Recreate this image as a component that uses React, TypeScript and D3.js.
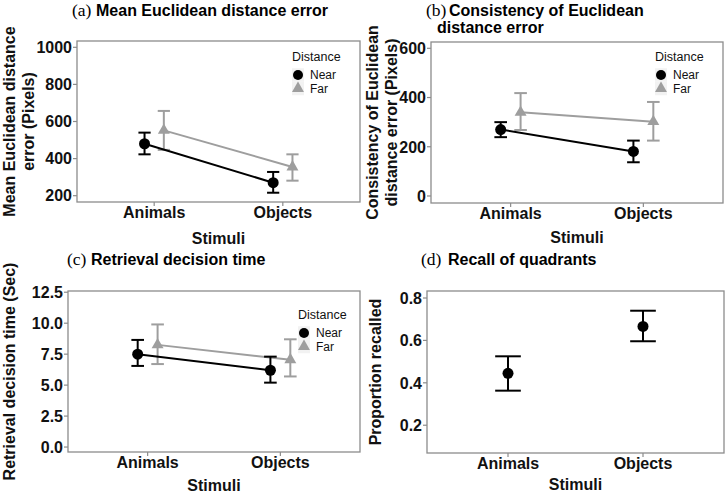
import React from 'react';
import * as d3 from 'd3';

// categories and series values
const stimuli = ['Animals', 'Objects'];

const meanErrNear = [480, 270];
const meanErrNearLo = [423, 216];
const meanErrNearHi = [540, 328];
const meanErrFar = [552, 355];
const meanErrFarLo = [447, 281];
const meanErrFarHi = [657, 423];

const consistNear = [270, 181];
const consistNearLo = [239, 137];
const consistNearHi = [300, 225];
const consistFar = [340, 302];
const consistFarLo = [268, 225];
const consistFarHi = [418, 382];

const timeNear = [7.5, 6.2];
const timeNearLo = [6.55, 5.2];
const timeNearHi = [8.65, 7.3];
const timeFar = [8.25, 7.05];
const timeFarLo = [6.7, 5.7];
const timeFarHi = [9.9, 8.7];

const recall = [0.445, 0.666];
const recallLo = [0.363, 0.596];
const recallHi = [0.525, 0.74];

// axis ticks and limits
const meanErrTicks = [200, 400, 600, 800, 1000];
const meanErrDomain = [166, 1034];
const consistTicks = [0, 200, 400, 600];
const consistDomain = [-28.5, 625.6];
const timeTicks = [0, 2.5, 5, 7.5, 10, 12.5];
const timeDomain = [-0.4, 12.6];
const recallTicks = [0.2, 0.4, 0.6, 0.8];
const recallDomain = [0.069, 0.833];

const distanceLevels = ['Near', 'Far'];

const SANS = '"Liberation Sans", Arial, sans-serif';
const SERIF = '"Liberation Serif", "Times New Roman", serif';
const NEAR = '#000000';
const FAR = '#9e9e9e';
const BORDER = '#8c8c8c';

type Series = {
  name: string;
  color: string;
  shape: 'circle' | 'triangle';
  mean: number[];
  lo: number[];
  hi: number[];
  dodge: number;
  line: boolean;
};

type PanelProps = {
  box: { x0: number; x1: number; y0: number; y1: number };
  domain: number[];
  ticks: number[];
  fmt: (v: number) => string;
  yTitle: string[];
  yTitleX: number[];
  xTitleY: number;
  series: Series[];
  cap: number;
  legend?: { x: number; y: number };
  title: { tag: string; text: string[]; x: number; y: number; boldX: number; line2X?: number };
};

const Panel: React.FC<PanelProps> = ({ box, domain, ticks, fmt, yTitle, yTitleX, xTitleY, series, cap, legend, title }) => {
  const x = d3.scalePoint<string>().domain(stimuli).range([box.x0, box.x1]).padding(0.6);
  const y = d3.scaleLinear().domain(domain).range([box.y1, box.y0]);
  const step = x.step();
  const yMid = (box.y0 + box.y1) / 2;
  const xMid = (box.x0 + box.x1) / 2;
  const tri = d3.symbol().type(d3.symbolTriangle).size(62)();

  return (
    <g>
      {/* title */}
      <text x={title.x} y={title.y} fontFamily={SERIF} fontSize={17.5}>{title.tag}</text>
      <text x={title.boldX} y={title.y} fontFamily={SANS} fontSize={16} fontWeight="bold">{title.text[0]}</text>
      {title.text[1] && (
        <text x={title.line2X} y={title.y + 17} fontFamily={SANS} fontSize={16} fontWeight="bold">{title.text[1]}</text>
      )}

      <rect x={box.x0} y={box.y0} width={box.x1 - box.x0} height={box.y1 - box.y0} fill="#fff" stroke={BORDER} strokeWidth={1.3} />

      {/* y axis */}
      {ticks.map(t => (
        <g key={t}>
          <line x1={box.x0 - 4} x2={box.x0} y1={y(t)} y2={y(t)} stroke={BORDER} strokeWidth={1.2} />
          <text x={box.x0 - 5} y={y(t)} dy="0.36em" textAnchor="end" fontFamily={SANS} fontSize={16} fontWeight="bold" fill="#111">{fmt(t)}</text>
        </g>
      ))}
      {yTitle.map((l, i) => (
        <text key={l} transform={`translate(${yTitleX[i]},${yMid}) rotate(-90)`} textAnchor="middle" fontFamily={SANS} fontSize={16} fontWeight="bold" fill="#111">{l}</text>
      ))}

      {/* x axis */}
      {stimuli.map(s => (
        <g key={s}>
          <line x1={x(s)} x2={x(s)} y1={box.y1} y2={box.y1 + 4} stroke={BORDER} strokeWidth={1.2} />
          <text x={x(s)} y={box.y1 + 16} textAnchor="middle" fontFamily={SANS} fontSize={16} fontWeight="bold" fill="#111">{s}</text>
        </g>
      ))}
      <text x={xMid} y={xTitleY} textAnchor="middle" fontFamily={SANS} fontSize={16} fontWeight="bold" fill="#111">Stimuli</text>

      {/* series: line, error bars, points */}
      {series.map(sr => {
        const px = (i: number) => (x(stimuli[i]) as number) + sr.dodge * step;
        const line = d3.line<number>().x((_, i) => px(i)).y(d => y(d));
        const hw = (cap * step) / 2;
        return (
          <g key={sr.name}>
            {sr.line && <path d={line(sr.mean) || ''} fill="none" stroke={sr.color} strokeWidth={2} />}
            {sr.mean.map((m, i) => (
              <g key={i} stroke={sr.color} strokeWidth={2}>
                <line x1={px(i)} x2={px(i)} y1={y(sr.lo[i])} y2={y(sr.hi[i])} />
                <line x1={px(i) - hw} x2={px(i) + hw} y1={y(sr.lo[i])} y2={y(sr.lo[i])} />
                <line x1={px(i) - hw} x2={px(i) + hw} y1={y(sr.hi[i])} y2={y(sr.hi[i])} />
              </g>
            ))}
            {sr.mean.map((m, i) =>
              sr.shape === 'circle' ? (
                <circle key={i} cx={px(i)} cy={y(m)} r={5.5} fill={sr.color} />
              ) : (
                <path key={i} d={tri || ''} transform={`translate(${px(i)},${y(m)})`} fill={sr.color} />
              )
            )}
          </g>
        );
      })}

      {/* legend */}
      {legend && (
        <g transform={`translate(${legend.x},${legend.y})`} fontFamily={SANS} fontSize={12} fill="#111">
          <text x={0} y={0} fontSize={12.5}>Distance</text>
          {distanceLevels.map((lv, i) => {
            const cy = 14 + i * 13.5;
            return (
              <g key={lv}>
                <rect x={0} y={cy - 6.75} width={12} height={13.5} fill="#f2f2f2" />
                {i === 0 ? (
                  <circle cx={6} cy={cy} r={5} fill={NEAR} />
                ) : (
                  <path d={tri || ''} transform={`translate(6,${cy})`} fill={FAR} />
                )}
                <text x={18} y={cy} dy="0.36em">{lv}</text>
              </g>
            );
          })}
        </g>
      )}
    </g>
  );
};

const f0 = d3.format('d');
const f1 = d3.format('.1f');

export default function App() {
  const nearFar = (mN: number[], lN: number[], hN: number[], mF: number[], lF: number[], hF: number[]): Series[] => [
    { name: 'Far', color: FAR, shape: 'triangle', mean: mF, lo: lF, hi: hF, dodge: 0.075, line: true },
    { name: 'Near', color: NEAR, shape: 'circle', mean: mN, lo: lN, hi: hN, dodge: -0.075, line: true },
  ];

  return (
    <div style={{ position: 'absolute', left: 0, top: 0 }}>
      <svg width={726} height={496} style={{ display: 'block', background: '#fff' }}>
        <Panel
          box={{ x0: 77, x1: 360, y0: 41, y1: 202 }}
          domain={meanErrDomain}
          ticks={meanErrTicks}
          fmt={f0}
          yTitle={['Mean Euclidean distance', 'error (Pixels)']}
          yTitleX={[15, 34]}
          xTitleY={244}
          series={nearFar(meanErrNear, meanErrNearLo, meanErrNearHi, meanErrFar, meanErrFarLo, meanErrFarHi)}
          cap={0.095}
          legend={{ x: 292, y: 61 }}
          title={{ tag: '(a)', text: ['Mean Euclidean distance error'], x: 72, y: 16, boldX: 96 }}
        />
        <Panel
          box={{ x0: 431, x1: 723, y0: 42, y1: 203 }}
          domain={consistDomain}
          ticks={consistTicks}
          fmt={f0}
          yTitle={['Consistency of Euclidean', 'distance error (Pixels)']}
          yTitleX={[378, 397]}
          xTitleY={243}
          series={nearFar(consistNear, consistNearLo, consistNearHi, consistFar, consistFarLo, consistFarHi)}
          cap={0.095}
          legend={{ x: 655, y: 61 }}
          title={{ tag: '(b)', text: ['Consistency of Euclidean', 'distance error'], x: 426, y: 16, boldX: 449, line2X: 437 }}
        />
        <Panel
          box={{ x0: 68, x1: 360, y0: 291, y1: 452 }}
          domain={timeDomain}
          ticks={timeTicks}
          fmt={f1}
          yTitle={['Retrieval decision time (Sec)']}
          yTitleX={[15]}
          xTitleY={491}
          series={nearFar(timeNear, timeNearLo, timeNearHi, timeFar, timeFarLo, timeFarHi)}
          cap={0.095}
          legend={{ x: 298, y: 319 }}
          title={{ tag: '(c)', text: ['Retrieval decision time'], x: 67, y: 265, boldX: 91 }}
        />
        <Panel
          box={{ x0: 427, x1: 724, y0: 291, y1: 453 }}
          domain={recallDomain}
          ticks={recallTicks}
          fmt={f1}
          yTitle={['Proportion recalled']}
          yTitleX={[381]}
          xTitleY={490}
          series={[{ name: 'Recall', color: NEAR, shape: 'circle', mean: recall, lo: recallLo, hi: recallHi, dodge: 0, line: false }]}
          cap={0.19}
          title={{ tag: '(d)', text: ['Recall of quadrants'], x: 421, y: 265, boldX: 448 }}
        />
      </svg>
    </div>
  );
}
